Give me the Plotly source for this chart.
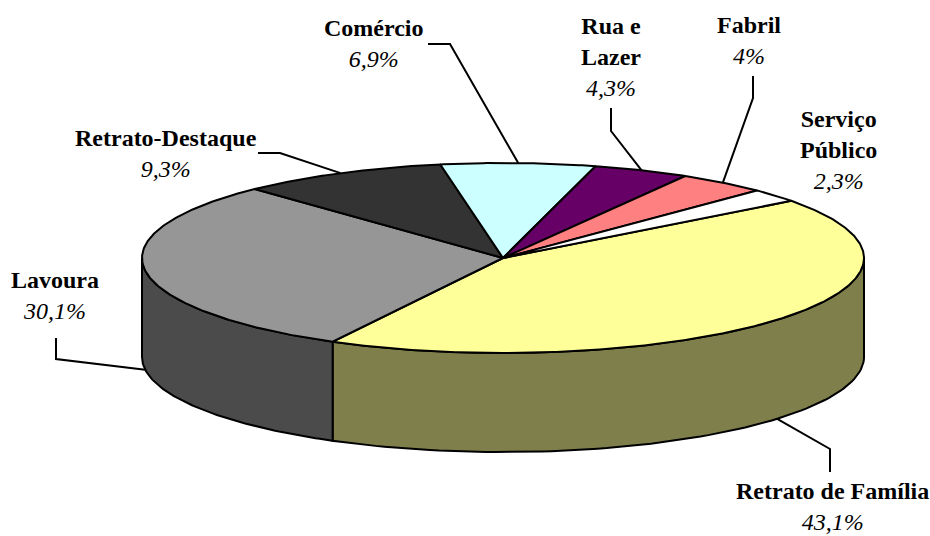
import numpy as np
import plotly.graph_objects as go

# ---- data ----
categories = ["Retrato de Família", "Lavoura", "Retrato-Destaque", "Comércio",
              "Rua e Lazer", "Fabril", "Serviço Público"]
label_names = ["Retrato de Família", "Lavoura", "Retrato-Destaque", "Comércio",
               "Rua e<br>Lazer", "Fabril", "Serviço<br>Público"]
values = [43.1, 30.1, 9.3, 6.9, 4.3, 4.0, 2.3]

# ---- style ----
top_colors = ["#FFFF99", "#969696", "#333333", "#CCFFFF", "#660066", "#FF8080", "#FFFFFF"]
CX, CY, RX, RY, DEPTH = 503, 258, 361, 95, 99
START_ANGLE = 37.0  # degrees, counter-clockwise from 3 o'clock; slices go clockwise
FONT = "Liberation Serif"

label_pos = [(832, 506), (55, 295), (166, 153), (374, 43), (611, 57), (749, 40), (838, 150)]
leader_pts = [
    [(830, 472), (830, 449)],
    [(56, 338), (56, 359)],
    [(258, 153), (280, 153)],
    [(428, 44), (450, 44)],
    [(611, 108), (611, 131)],
    [(753, 76), (753, 98)],
    None,
]


def darken(hexc, f=0.5):
    h = hexc.lstrip("#")
    r, g, b = (int(h[i:i + 2], 16) for i in (0, 2, 4))
    return "rgb(%d,%d,%d)" % (r * f, g * f, b * f)


def ex(a):
    return CX + RX * np.cos(np.radians(a))


def ey(a):
    return CY - RY * np.sin(np.radians(a))


fig = go.Figure()

total = sum(values)
angles = []
a = START_ANGLE
for v in values:
    sweep = v / total * 360.0
    angles.append((a, a - sweep))
    a -= sweep

# side walls (front half: angles in [-180, 0] mod 360)
for (s, e), col in zip(angles, top_colors):
    for k in (-1, 0, 1):
        lo, hi = max(e, -180 + 360 * k), min(s, 0 + 360 * k)
        if hi > lo:
            t = np.linspace(hi, lo, 80)
            xs = list(ex(t)) + list(ex(t[::-1]))
            ys = list(ey(t)) + list(ey(t[::-1]) + DEPTH)
            fig.add_trace(go.Scatter(x=xs + [xs[0]], y=ys + [ys[0]], mode="lines",
                                     fill="toself", fillcolor=darken(col),
                                     line=dict(color="black", width=2),
                                     hoverinfo="skip", showlegend=False))

# top faces
for (s, e), col in zip(angles, top_colors):
    t = np.linspace(s, e, max(int(abs(s - e)) * 2, 10))
    xs = [CX] + list(ex(t)) + [CX]
    ys = [CY] + list(ey(t)) + [CY]
    fig.add_trace(go.Scatter(x=xs, y=ys, mode="lines", fill="toself", fillcolor=col,
                             line=dict(color="black", width=2),
                             hoverinfo="skip", showlegend=False))

# labels + leader lines
for i, ((s, e), name, v) in enumerate(zip(angles, label_names, values)):
    pct = ("%g" % v).replace(".", ",") + "%"
    lx, ly = label_pos[i]
    fig.add_annotation(x=lx, y=ly, xref="x", yref="y", showarrow=False,
                       text="<b>%s</b><br><i>%s</i>" % (name, pct),
                       font=dict(family=FONT, size=24, color="black"),
                       xanchor="center", yanchor="middle", align="center")
    if leader_pts[i] is not None:
        m = (s + e) / 2.0
        axp, ayp = ex(m), ey(m)
        if np.sin(np.radians(m)) < 0:
            ayp += DEPTH
        pts = leader_pts[i] + [(axp, ayp)]
        fig.add_trace(go.Scatter(x=[p[0] for p in pts], y=[p[1] for p in pts],
                                 mode="lines", line=dict(color="black", width=2),
                                 hoverinfo="skip", showlegend=False))

fig.update_layout(
    width=930, height=536, margin=dict(l=0, r=0, t=0, b=0),
    paper_bgcolor="white", plot_bgcolor="white",
    xaxis=dict(range=[0, 930], visible=False, fixedrange=True),
    yaxis=dict(range=[536, 0], visible=False, fixedrange=True),
)

fig.write_html("out.html")
